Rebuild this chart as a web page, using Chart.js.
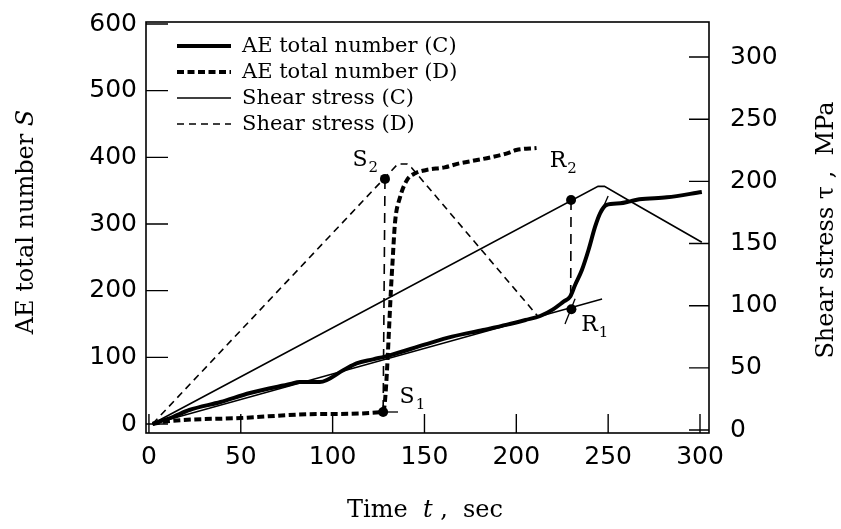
<!DOCTYPE html>
<html><head><meta charset="utf-8">
<script src="https://cdn.jsdelivr.net/npm/chart.js@4.4.0/dist/chart.umd.min.js"></script>
<style>html,body{margin:0;padding:0;background:#fff;}canvas{display:block;}</style>
</head><body>
<canvas id="c" width="841" height="529"></canvas>
<script>
// ---- tick labels ----
const xTicks = [0, 50, 100, 150, 200, 250, 300];
const leftTicks = [0, 100, 200, 300, 400, 500, 600];
const rightTicks = [0, 50, 100, 150, 200, 250, 300];

// ---- series (time t in sec) ----
const aeC_t = [2, 13, 22, 39, 55, 77, 82, 93, 106, 113, 122, 131, 150, 165, 182, 195, 205, 213, 220, 225.7, 229.3, 232, 235.7, 239.3, 242.9, 245.6, 249, 256.6, 262, 267, 282, 301];
const aeC_S = [0, 10.5, 21, 33, 46.5, 60, 63, 63, 81, 91, 97, 103, 119, 131, 141, 149, 156, 162, 172, 183.5, 191, 208.5, 231, 261, 296, 316, 328.5, 331, 334, 337, 340, 348];

const aeD_t = [2, 10, 50, 93, 127.5, 132.4, 134, 136.7, 140.5, 145, 151, 161, 169, 173, 186, 195, 200, 211];
const aeD_S = [0, 4, 9, 15, 18, 233, 303, 340, 366, 376, 381, 385, 391, 393, 400, 406, 411, 414];

const shC_t = [2, 244.5, 248, 262, 301];
const shC_tau = [5, 196, 196, 184, 151];

const shD_t = [2, 135.5, 140.5, 143, 212];
const shD_tau = [5, 214, 214, 211, 91];

// construction lines (AE units)
const fit_t = [2, 246.7];
const fit_S = [0, 187.5];
const r1Tan_t = [226.5, 232];
const r1Tan_S = [150, 188];
const s1Mark_t = [127.5, 135.6];
const s1Mark_S = [18, 18];
const cornerMark_t = [246.5, 250];
const cornerMark_S = [320, 342];
const sVert_t = [128.5, 127.5];
const sVert_S = [367.5, 18];
const rVert_t = [229.8, 229.6];
const rVert_S = [336, 192];

// marked points
const ptsLeft_t = [127.5, 230];     // S1, R1 (AE axis)
const ptsLeft_S = [18, 172];
const ptsRight_t = [128.5, 229.8];  // S2, R2 (stress axis)
const ptsRight_tau = [202, 185];
const ptNames = ['S', 'R'];

const legendLabels = ['AE total number (C)', 'AE total number (D)', 'Shear stress (C)', 'Shear stress (D)'];

const xy = (xs, ys) => xs.map((x, i) => ({x, y: ys[i]}));

const SERIF = '"DejaVu Serif", "Liberation Serif", serif';
const SANS = '"DejaVu Sans", "Liberation Sans", sans-serif';

const base = {pointRadius: 0, fill: false, borderColor: '#000', backgroundColor: '#000', tension: 0};

const datasets = [
  {...base, label: legendLabels[0], data: xy(aeC_t, aeC_S), yAxisID: 'yL', borderWidth: 4, cubicInterpolationMode: 'monotone'},
  {...base, label: legendLabels[1], data: xy(aeD_t, aeD_S), yAxisID: 'yL', borderWidth: 4, borderDash: [7, 3.5], cubicInterpolationMode: 'monotone'},
  {...base, label: legendLabels[2], data: xy(shC_t, shC_tau), yAxisID: 'yR', borderWidth: 1.6},
  {...base, label: legendLabels[3], data: xy(shD_t, shD_tau), yAxisID: 'yR', borderWidth: 1.6, borderDash: [7, 5]},
  {...base, label: 'fit', data: xy(fit_t, fit_S), yAxisID: 'yL', borderWidth: 1.3},
  {...base, label: 'r1tan', data: xy(r1Tan_t, r1Tan_S), yAxisID: 'yL', borderWidth: 1.3},
  {...base, label: 's1mark', data: xy(s1Mark_t, s1Mark_S), yAxisID: 'yL', borderWidth: 1.3},
  {...base, label: 'corner', data: xy(cornerMark_t, cornerMark_S), yAxisID: 'yL', borderWidth: 1.3},
  {...base, label: 'sVert', data: xy(sVert_t, sVert_S), yAxisID: 'yL', borderWidth: 1.6, borderDash: [10, 7]},
  {...base, label: 'rVert', data: xy(rVert_t, rVert_S), yAxisID: 'yL', borderWidth: 1.6, borderDash: [10, 7]},
  {...base, label: 'ptsL', data: xy(ptsLeft_t, ptsLeft_S), yAxisID: 'yL', showLine: false, pointRadius: 5, pointBorderWidth: 0},
  {...base, label: 'ptsR', data: xy(ptsRight_t, ptsRight_tau), yAxisID: 'yR', showLine: false, pointRadius: 5, pointBorderWidth: 0}
];

function drawRich(ctx, segs, cx, cy, rot) {
  ctx.save();
  ctx.translate(cx, cy);
  ctx.rotate(rot);
  ctx.textBaseline = 'middle';
  ctx.textAlign = 'left';
  let total = 0;
  segs.forEach(s => { ctx.font = s.font; s.w = ctx.measureText(s.text).width; total += s.w; });
  let x = -total / 2;
  segs.forEach(s => { ctx.font = s.font; ctx.fillText(s.text, x, 0); x += s.w; });
  ctx.restore();
}

const framePlugin = {
  id: 'frameTicks',
  afterDatasetsDraw(chart) {
    const {ctx, chartArea: a, scales} = chart;
    ctx.save();
    ctx.strokeStyle = '#000';
    ctx.lineWidth = 1.6;
    ctx.strokeRect(a.left, a.top, a.right - a.left, a.bottom - a.top);
    ctx.lineWidth = 1.4;
    ctx.beginPath();
    scales.x.ticks.forEach(t => { const p = scales.x.getPixelForValue(t.value); ctx.moveTo(p, a.bottom); ctx.lineTo(p, a.bottom - 19); });
    scales.yL.ticks.forEach(t => { const p = scales.yL.getPixelForValue(t.value); ctx.moveTo(a.left, p); ctx.lineTo(a.left + 22, p); });
    scales.yR.ticks.forEach(t => { const p = scales.yR.getPixelForValue(t.value); ctx.moveTo(a.right, p); ctx.lineTo(a.right - 20, p); });
    ctx.stroke();
    ctx.restore();
  }
};

const textPlugin = {
  id: 'texts',
  afterDraw(chart) {
    const {ctx, scales} = chart;
    ctx.save();
    ctx.fillStyle = '#000';
    const n = '24px ' + SERIF, it = 'italic 24px ' + SERIF;
    drawRich(ctx, [{text: 'AE total number ', font: n}, {text: 'S', font: it}], 27, 222, -Math.PI / 2);
    drawRich(ctx, [{text: 'Shear stress τ ,  MPa', font: n}], 827, 230, -Math.PI / 2);
    drawRich(ctx, [{text: 'Time  ', font: n}, {text: 't', font: it}, {text: ' ,  sec', font: n}], 425, 511, 0);

    // legend
    const ds = chart.data.datasets;
    const rowY = [46, 72, 98, 124];
    for (let i = 0; i < 4; i++) {
      const d = ds[i];
      ctx.save();
      ctx.strokeStyle = '#000';
      ctx.lineWidth = d.borderWidth;
      ctx.setLineDash(d.borderDash || []);
      ctx.beginPath();
      ctx.moveTo(177, rowY[i]);
      ctx.lineTo(231, rowY[i]);
      ctx.stroke();
      ctx.restore();
      ctx.font = '21px ' + SERIF;
      ctx.textBaseline = 'middle';
      ctx.textAlign = 'left';
      ctx.fillText(d.label, 242, rowY[i] + 1);
    }

    // point labels
    const lbl = (name, sub, px, py, dx, dy) => {
      ctx.font = '22px ' + SERIF;
      ctx.textBaseline = 'middle';
      ctx.textAlign = 'center';
      ctx.fillText(name, px + dx, py + dy);
      const w = ctx.measureText(name).width;
      ctx.font = '15px ' + SERIF;
      ctx.textAlign = 'left';
      ctx.fillText(sub, px + dx + w / 2 + 1, py + dy + 8);
    };
    const xL = scales.x, yL = scales.yL, yR = scales.yR;
    lbl(ptNames[0], '1', xL.getPixelForValue(ptsLeft_t[0]), yL.getPixelForValue(ptsLeft_S[0]), 24, -15);
    lbl(ptNames[1], '1', xL.getPixelForValue(ptsLeft_t[1]), yL.getPixelForValue(ptsLeft_S[1]), 18, 16);
    lbl(ptNames[0], '2', xL.getPixelForValue(ptsRight_t[0]), yR.getPixelForValue(ptsRight_tau[0]), -25, -19);
    lbl(ptNames[1], '2', xL.getPixelForValue(ptsRight_t[1]), yR.getPixelForValue(ptsRight_tau[1]), -13, -39);
    ctx.restore();
  }
};

const tickFont = {family: SANS, size: 25};

new Chart(document.getElementById('c'), {
  type: 'line',
  data: {datasets},
  plugins: [framePlugin, textPlugin],
  options: {
    responsive: false,
    animation: false,
    devicePixelRatio: 1,
    layout: {padding: {top: 22, left: 0, right: 0, bottom: 0}},
    plugins: {legend: {display: false}, tooltip: {enabled: false}},
    scales: {
      x: {
        type: 'linear', position: 'bottom', min: -1.6, max: 304.9,
        afterBuildTicks: s => { s.ticks = xTicks.map(v => ({value: v})); },
        afterFit: s => { s.height = 96; },
        grid: {display: false, drawTicks: false}, border: {display: false},
        ticks: {font: tickFont, color: '#000', padding: 9, maxRotation: 0, autoSkip: false}
      },
      yL: {
        type: 'linear', position: 'left', min: -13.5, max: 603,
        afterBuildTicks: s => { s.ticks = leftTicks.map(v => ({value: v})); },
        afterFit: s => { s.width = 146; },
        grid: {display: false, drawTicks: true, tickLength: 3}, border: {display: false},
        ticks: {font: tickFont, color: '#000', padding: 6, autoSkip: false}
      },
      yR: {
        type: 'linear', position: 'right', min: -2.4, max: 328.2,
        afterBuildTicks: s => { s.ticks = rightTicks.map(v => ({value: v})); },
        afterFit: s => { s.width = 132; },
        grid: {display: false, drawTicks: true, tickLength: 15}, border: {display: false},
        ticks: {font: tickFont, color: '#000', padding: 6, autoSkip: false}
      }
    }
  }
});
</script>
</body></html>
